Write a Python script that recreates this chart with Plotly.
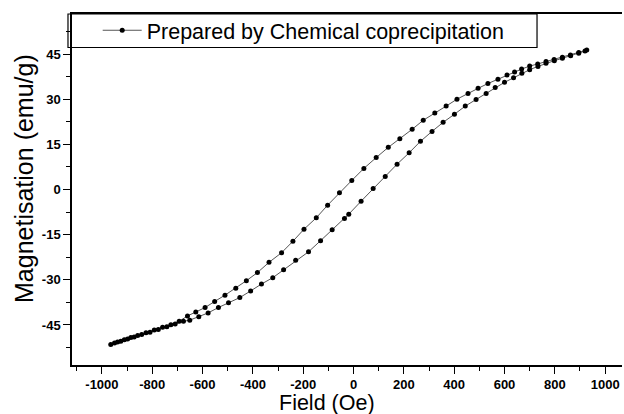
import plotly.graph_objects as go

# Descending-field (upper) branch
h_down = [927, 895, 862, 830, 797, 765, 732, 700, 668, 640, 610, 574, 534, 495,
          455, 411, 368, 323, 277, 233, 184, 138, 90, 41, -7, -56, -103, -148,
          -197, -241, -286, -336, -382, -426, -468, -511, -552, -590, -627, -660,
          -693, -726, -759, -792, -825, -858, -885, -911, -938, -965]
m_down = [46.3, 45.5, 44.7, 43.9, 43.2, 42.5, 41.7, 41.0, 40.0, 39.0, 38.0, 36.6,
          35.2, 33.6, 31.9, 30.0, 27.7, 25.4, 23.0, 20.0, 16.9, 14.0, 10.6, 7.0,
          3.0, -1.1, -5.2, -9.4, -13.2, -17.2, -21.0, -24.2, -27.6, -30.3, -32.8,
          -35.1, -37.2, -39.2, -40.7, -42.0, -43.8, -44.9, -45.8, -46.7, -47.6,
          -48.5, -49.2, -49.9, -50.7, -51.5]

# Ascending-field (lower) branch
h_up = [-950, -925, -898, -872, -842, -809, -776, -742, -709, -676, -651, -615,
        -578, -537, -497, -452, -409, -366, -321, -278, -230, -179, -131, -85,
        -36, -19, 30, 78, 126, 173, 221, 266, 312, 356, 401, 444, 487, 527, 563,
        600, 636, 669, 700, 733, 765, 798, 830, 863, 895, 920]
m_up = [-51.0, -50.4, -49.7, -49.0, -48.2, -47.4, -46.5, -45.6, -44.7, -43.8,
        -43.4, -42.3, -41.0, -39.2, -37.6, -35.9, -33.7, -31.4, -29.3, -26.7,
        -23.5, -20.7, -17.0, -13.4, -9.6, -8.2, -3.9, 0.3, 4.3, 8.4, 12.2, 16.0,
        19.3, 22.3, 25.0, 27.7, 29.9, 31.9, 33.9, 35.6, 37.1, 38.6, 39.8, 40.9,
        41.9, 42.8, 43.6, 44.4, 45.3, 46.0]

x_ticks = [-1000, -800, -600, -400, -200, 0, 200, 400, 600, 800, 1000]
x_ticktext = ["-1000", "-800", "-600", "-400", "-200", "0", "200", "400", "600", "800", "1000"]
y_ticks = [-45, -30, -15, 0, 15, 30, 45]
y_ticktext = ["-45", "-30", "-15", "0", "15", "30", "45"]
series_name = "Prepared by Chemical coprecipitation"
x_title = "Field (Oe)"
y_title = "Magnetisation (emu/g)"

fig = go.Figure()
fig.add_trace(go.Scatter(
    x=h_down + h_up, y=m_down + m_up, mode="lines+markers", name=series_name,
    line=dict(color="#555555", width=1),
    marker=dict(color="black", size=5),
))

font_main = "Liberation Sans, Arial, sans-serif"
fig.update_layout(
    width=624, height=414,
    margin=dict(l=72, r=2, t=14, b=49),
    paper_bgcolor="white", plot_bgcolor="white",
    showlegend=True,
    legend=dict(x=-0.006, y=1.012, xanchor="left", yanchor="top",
                borderwidth=0, bgcolor="rgba(0,0,0,0)",
                font=dict(family=font_main, size=21.5, color="black"),
                indentation=29, itemwidth=39),
    font=dict(family=font_main, color="black"),
    shapes=[dict(type="rect", xref="paper", yref="paper",
                 x0=-0.0073, x1=0.8455, y0=0.9046, y1=1.0,
                 line=dict(color="black", width=1.2), fillcolor="white",
                 layer="below")],
    annotations=[
        dict(text=x_title, xref="paper", yref="paper", x=0.4636, y=-0.1083,
             xanchor="center", yanchor="middle", showarrow=False,
             font=dict(family=font_main, size=21.5, color="black")),
        dict(text=y_title, xref="paper", yref="paper", x=-0.0873, y=0.5328,
             xanchor="center", yanchor="middle", showarrow=False, textangle=-90,
             font=dict(family=font_main, size=25, color="black")),
    ],
)
fig.update_xaxes(
    range=[-1119, 1067], tickvals=x_ticks, ticktext=x_ticktext,
    ticks="outside", ticklen=7, tickwidth=1.3, tickcolor="black",
    showline=True, linecolor="black", linewidth=1.5,
    mirror=True, showgrid=False, zeroline=False,
    tickfont=dict(family=font_main, size=13, color="black", weight="bold"),
    minor=dict(dtick=100, ticks="outside", ticklen=4, tickwidth=1.2, tickcolor="black"),
)
fig.update_yaxes(
    range=[-58.3, 58.3], tickvals=y_ticks, ticktext=y_ticktext,
    ticks="outside", ticklen=7, tickwidth=1.3, tickcolor="black",
    showline=True, linecolor="black", linewidth=1.5,
    showgrid=False, zeroline=False,
    tickfont=dict(family=font_main, size=13, color="black", weight="bold"),
    minor=dict(dtick=7.5, ticks="outside", ticklen=4, tickwidth=1.2, tickcolor="black"),
)
fig.write_html("out.html", config={"displayModeBar": False},
               post_script="document.body.style.margin='0';document.body.style.overflow='hidden';")
